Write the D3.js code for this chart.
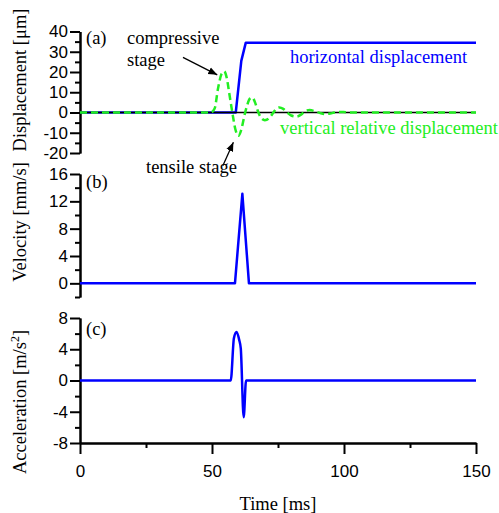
<!DOCTYPE html>
<html>
<head>
<meta charset="utf-8">
<script src="https://cdn.jsdelivr.net/npm/d3@7"></script>
<style>
html,body{margin:0;padding:0;background:#fff;}
svg{display:block;}
.serif{font-family:"Liberation Serif","Times New Roman",Times,"DejaVu Serif",serif;}
.sans{font-family:"Liberation Sans",Arial,Helvetica,sans-serif;}
</style>
</head>
<body>
<svg id="chart" width="499" height="513"></svg>
<script>
// ---- data ----
const timeTicks = [0, 50, 100, 150];
const timeMinor = [25, 75, 125];
const dispTicks = [-20, -10, 0, 10, 20, 30, 40];
const velTicks = [0, 4, 8, 12, 16];
const accTicks = [-8, -4, 0, 4, 8];

// horizontal displacement [μm] (time ms, value)
const horizTime = [0, 59, 61.1, 62.8, 150];
const horizVal  = [0, 0, 25.5, 34.5, 34.5];

// vertical relative displacement [μm]
const vertTime = [0, 49.5, 51, 52.3, 53.6, 54.6, 55.6, 56.6, 57.7, 58.8, 60, 61.2, 62.2, 63.3, 64.3, 65.3, 66.3, 67.3, 68.5, 70, 71.5, 73, 74.3, 75.5, 77, 78.5, 80, 82, 84, 85.5, 87, 89, 91, 93, 95.5, 98, 101, 105, 150];
const vertVal  = [0, 0, 2, 12, 19, 20.3, 17, 9, 0, -8, -11.5, -8, -2, 3.5, 6.8, 7.4, 5, 1, -2.5, -3.8, -3, -0.5, 1.8, 2.5, 1.8, 0, -1.5, -2, -0.8, 0.8, 1.2, 0.6, -0.3, -0.8, -0.3, 0.3, 0.1, 0, 0];

// velocity [mm/s]
const velTime = [0, 58.7, 61.5, 64, 150];
const velVal  = [0, 0, 13.1, 0, 0];

// acceleration [m/s^2]
const accTime = [0, 57.1, 58.3, 59.3, 60.3, 60.9, 62.0, 62.9, 150];
const accVal  = [0, 0, 5.4, 6.2, 5.2, 4.1, -4.7, 0, 0];

// ---- layout ----
const svg = d3.select("#chart");
const x = d3.scaleLinear().domain([0, 150]).range([80, 476]);
const yA = d3.scaleLinear().domain([-20, 40]).range([153, 31.5]);
const yB = d3.scaleLinear().domain([-2, 16]).range([297, 174]);
const yC = d3.scaleLinear().domain([-8, 8]).range([443, 318]);

const BLUE = "#0000ff", GREEN = "#22ee22";
const fmt = d => String(d);

function styleAxis(g) {
  g.attr("font-family", null).attr("font-size", null);
  g.selectAll("path.domain").attr("stroke", "#000").attr("stroke-width", 2);
  g.selectAll(".tick line").attr("stroke", "#000").attr("stroke-width", 2);
  g.selectAll(".tick text").attr("class", "sans").style("font-size", "17px").attr("fill", "#000");
}

function yAxis(scale, major, step) {
  const [d0, d1] = scale.domain();
  const minor = d3.range(d0, d1 + 0.001, step / 2).filter(v => !major.includes(v));
  svg.append("g").attr("transform", "translate(80,0)")
    .call(d3.axisLeft(scale).tickValues(minor).tickSize(5).tickSizeOuter(0).tickFormat(""))
    .call(styleAxis);
  svg.append("g").attr("transform", "translate(80,0)")
    .call(d3.axisLeft(scale).tickValues(major).tickSize(10).tickSizeOuter(0).tickPadding(2).tickFormat(fmt))
    .call(styleAxis);
}
yAxis(yA, dispTicks, 10);
yAxis(yB, velTicks, 4);
yAxis(yC, accTicks, 4);

// x axis
svg.append("g").attr("transform", "translate(0,443)")
  .call(d3.axisBottom(x).tickValues(timeMinor).tickSize(5).tickSizeOuter(0).tickFormat(""))
  .call(styleAxis);
svg.append("g").attr("transform", "translate(0,443)")
  .call(d3.axisBottom(x).tickValues(timeTicks).tickSize(11).tickSizeOuter(0).tickPadding(11).tickFormat(fmt))
  .call(styleAxis);

// ---- lines ----
const zip = (t, v) => t.map((d, i) => [d, v[i]]);

function drawLine(data, ys, color, opts = {}) {
  const line = d3.line().x(d => x(d[0])).y(d => ys(d[1])).curve(opts.curve || d3.curveLinear);
  svg.append("path").datum(data)
    .attr("d", line).attr("fill", "none")
    .attr("stroke", color).attr("stroke-width", opts.width || 2.5)
    .attr("stroke-linejoin", "round")
    .attr("stroke-dasharray", opts.dash || null);
}

drawLine(zip(horizTime, horizVal), yA, BLUE);
// zero reference line
svg.append("line").attr("x1", x(0)).attr("x2", x(150)).attr("y1", yA(0)).attr("y2", yA(0))
  .attr("stroke", "#000").attr("stroke-width", 1.3);
drawLine(zip(vertTime, vertVal), yA, GREEN, { dash: "7,4", curve: d3.curveMonotoneX, width: 2.5 });
drawLine(zip(velTime, velVal), yB, BLUE);
drawLine(zip(accTime, accVal), yC, BLUE, { curve: d3.curveMonotoneX });

// ---- text ----
function txt(s, px, py, opts = {}) {
  return svg.append("text").attr("x", px).attr("y", py)
    .attr("class", "serif").style("font-size", (opts.size || 18.5) + "px")
    .attr("fill", opts.fill || "#000")
    .attr("text-anchor", opts.anchor || "start")
    .text(s);
}
txt("(a)", 86, 44);
txt("(b)", 86, 188);
txt("(c)", 86, 335);

txt("compressive", x(17.8), yA(33.7));
txt("stage", x(17.8), yA(22.8));
txt("tensile stage", x(25), yA(-29.7));
txt("horizontal displacement", x(79.5), yA(24.3), { fill: BLUE });
txt("vertical relative displacement", x(75.8), yA(-10.4), { fill: GREEN });

// axis titles
function ytitle(parts, cy) {
  const t = svg.append("text")
    .attr("transform", `translate(26,${cy}) rotate(-90)`)
    .attr("text-anchor", "middle")
    .attr("class", "serif").style("font-size", "18.5px").attr("fill", "#000");
  parts.forEach(p => {
    const ts = t.append("tspan").text(p[0]);
    if (p[1]) ts.attr("dy", -7).style("font-size", "12px");
    else if (p[2]) ts.attr("dy", 7);
  });
}
ytitle([["Displacement [μm]"]], 80);
ytitle([["Velocity [mm/s]"]], 222);
ytitle([["Acceleration [m/s"], ["2", true], ["]", false, true]], 402);

txt("Time [ms]", x(75), 510, { anchor: "middle" });

// ---- arrows ----
const defs = svg.append("defs");
defs.append("marker").attr("id", "ah").attr("viewBox", "0 0 10 10")
  .attr("refX", 10).attr("refY", 5).attr("markerWidth", 9).attr("markerHeight", 9)
  .attr("markerUnits", "userSpaceOnUse").attr("orient", "auto")
  .append("path").attr("d", "M0,1 L10,5 L0,9 Z").attr("fill", "#000");

function arrow(t0, v0, t1, v1) {
  svg.append("line")
    .attr("x1", x(t0)).attr("y1", yA(v0)).attr("x2", x(t1)).attr("y2", yA(v1))
    .attr("stroke", "#000").attr("stroke-width", 1.3).attr("marker-end", "url(#ah)");
}
arrow(39, 27.2, 52, 18.6);
arrow(54.1, -26.3, 58.1, -14.7);
</script>
</body>
</html>
